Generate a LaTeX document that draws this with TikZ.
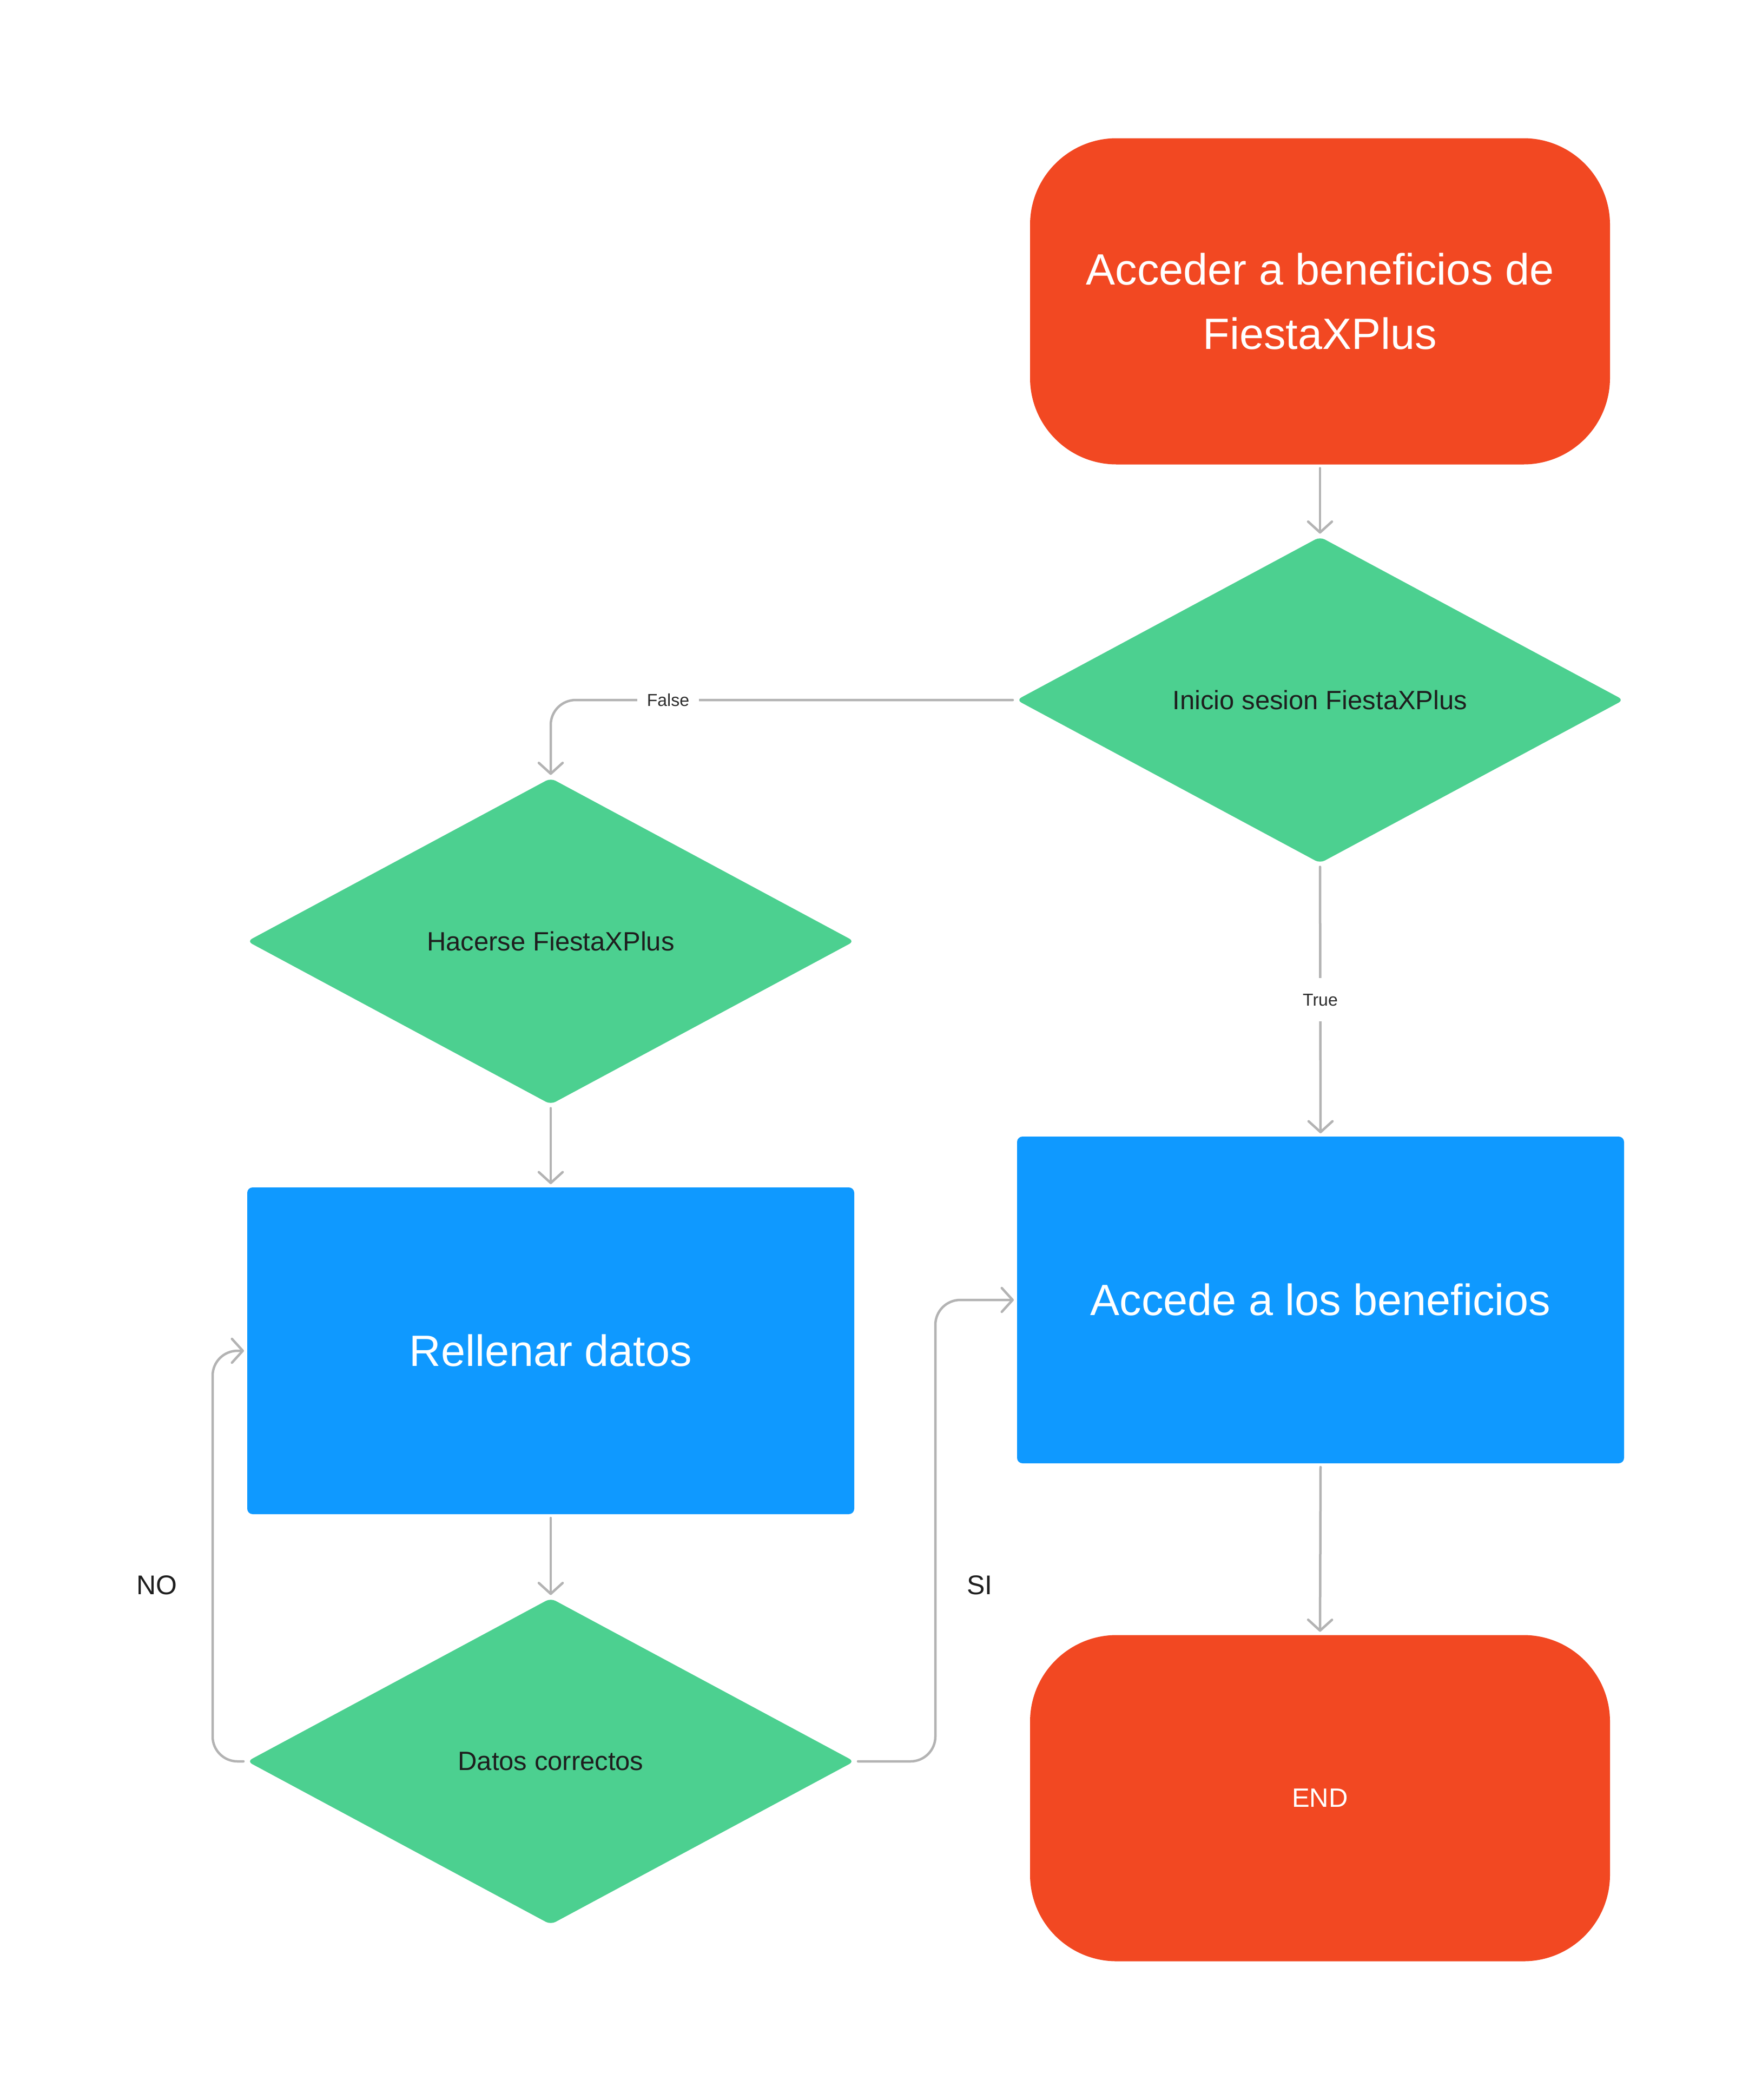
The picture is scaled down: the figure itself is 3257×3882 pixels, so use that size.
\documentclass[tikz,border=0pt]{standalone}
\usepackage{fontspec}
\setmainfont{Liberation Sans}
\usetikzlibrary{shapes.geometric,arrows.meta}
\definecolor{fxred}{HTML}{F24822}
\definecolor{fxgreen}{HTML}{4CD090}
\definecolor{fxblue}{HTML}{0F99FF}
\definecolor{linegray}{HTML}{B3B3B3}
\definecolor{darktext}{HTML}{1E1E1E}
\definecolor{labtext}{HTML}{2C2C2C}
\begin{document}
\begin{tikzpicture}[x=1pt,y=-1pt,
  terminal/.style={shape=rectangle, fill=fxred, rounded corners=160pt, minimum width=1072pt, minimum height=603pt, inner sep=0pt, outer sep=0pt, text=white, align=center},
  decision/.style={shape=diamond, aspect=1.86, fill=fxgreen, rounded corners=10pt, minimum width=1122pt, minimum height=603pt, inner sep=0pt, outer sep=0pt, text=darktext, font=\fontsize{49}{58}\selectfont},
  process/.style={shape=rectangle, fill=fxblue, rounded corners=10pt, minimum width=1122pt, minimum height=604pt, inner sep=0pt, outer sep=0pt, text=white, font=\fontsize{81}{119}\selectfont},
  conn/.style={draw=linegray, line width=4.5pt, line cap=round, line join=round, rounded corners=46pt, shorten >=6pt, shorten <=7pt, -{Straight Barb[length=20pt,width=44pt,round]}},
  lab/.style={fill=white, text=labtext, font=\fontsize{32}{38}\selectfont, inner xsep=18pt, inner ysep=29pt, rounded corners=0pt},
  side/.style={text=darktext, font=\fontsize{50}{60}\selectfont, inner sep=0pt}
]
\useasboundingbox (0,0) rectangle (3257,3882);
\fill[white] (0,0) rectangle (3257,3882);

\node[terminal, font=\fontsize{81}{119}\selectfont] (start) at (2440,557) {Acceder a beneficios de\\FiestaXPlus};
\node[decision] (d1) at (2440,1294) {Inicio sesion FiestaXPlus};
\node[decision] (d2) at (1018,1740) {Hacerse FiestaXPlus};
\node[process] (rel) at (1018,2497) {Rellenar datos};
\node[decision] (d3) at (1018,3256) {Datos correctos};
\node[process] (acc) at (2441,2403) {Accede a los beneficios};
\node[terminal, font=\fontsize{49}{58}\selectfont] (end) at (2440,3324) {END};

\node[side] (no) at (290,2930) {NO};
\node[side] (si) at (1811,2930) {SI};

\draw[conn] (start.south) -- (d1.north);
\draw[conn] (d1.west) -| node[lab, pos=0.374] {False} (d2.north);
\draw[conn] (d1.south) -- node[lab] {True} (acc.north);
\draw[conn] (d2.south) -- (rel.north);
\draw[conn] (rel.south) -- (d3.north);
\draw[conn] (d3.west) -- ++(-64,0) |- (rel.west);
\draw[conn] (d3.east) -- ++(150,0) |- (acc.west);
\draw[conn] (acc.south) -- (end.north);
\end{tikzpicture}
\end{document}
